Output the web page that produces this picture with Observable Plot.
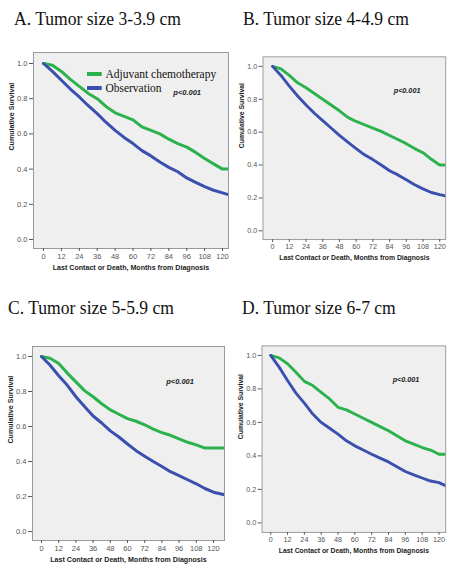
<!DOCTYPE html>
<html>
<head>
<meta charset="utf-8">
<script src="https://cdn.jsdelivr.net/npm/d3@7"></script>
<script src="https://cdn.jsdelivr.net/npm/@observablehq/plot@0.6"></script>
<style>
  html, body { margin: 0; padding: 0; background: #fff; }
  #wrap { position: relative; width: 451px; height: 566px; overflow: hidden; background: #fff; }
  .title { position: absolute; font-family: "Liberation Serif", "DejaVu Serif", serif; font-size: 19px; color: #111; white-space: nowrap; line-height: 1; transform: scaleX(0.925); transform-origin: 0 0; }
  .panel { position: absolute; }
  .legend { position: absolute; font-family: "Liberation Serif", serif; font-size: 12.5px; color: #111; line-height: 14px; transform: scaleX(0.92); transform-origin: 0 0; }
  .legend div { display: flex; align-items: center; white-space: nowrap; }
  .legend span.sw { display: inline-block; width: 16px; height: 4px; margin-right: 4px; }
</style>
</head>
<body>
<div id="wrap"></div>
<script>
// ---- data ----
const months = [0,6,12,18,24,30,36,42,48,54,60,66,72,78,84,90,96,102,108,114,120,128];
const xTicks = [0,12,24,36,48,60,72,84,96,108,120];
const yTicks = [0,0.2,0.4,0.6,0.8,1.0];
const seriesNames = ["Adjuvant chemotherapy", "Observation"];
const panelTitles = ["A. Tumor size 3-3.9 cm", "B. Tumor size 4-4.9 cm", "C. Tumor size 5-5.9 cm", "D. Tumor size 6-7 cm"];
const pText = "p<0.001";
const xLabel = "Last Contact or Death, Months from Diagnosis";
const yLabel = "Cumulative Survival";

const greenA = [1.0,0.99,0.955,0.91,0.87,0.83,0.80,0.755,0.72,0.70,0.68,0.64,0.62,0.60,0.57,0.545,0.525,0.495,0.46,0.43,0.40,0.40];
const blueA  = [1.0,0.955,0.905,0.855,0.81,0.76,0.715,0.665,0.62,0.58,0.545,0.505,0.475,0.44,0.41,0.385,0.35,0.325,0.30,0.28,0.265,0.245];
const greenB = [1.0,0.985,0.945,0.90,0.87,0.835,0.80,0.765,0.73,0.69,0.665,0.645,0.625,0.605,0.58,0.555,0.53,0.50,0.475,0.435,0.40,0.40];
const blueB  = [1.0,0.945,0.88,0.82,0.765,0.715,0.67,0.625,0.58,0.54,0.50,0.462,0.433,0.40,0.365,0.34,0.31,0.28,0.255,0.233,0.22,0.205];
const greenC = [1.0,0.99,0.96,0.905,0.855,0.805,0.77,0.73,0.695,0.67,0.645,0.63,0.61,0.585,0.565,0.55,0.53,0.51,0.495,0.477,0.477,0.477];
const blueC  = [1.0,0.95,0.89,0.835,0.77,0.715,0.66,0.62,0.575,0.54,0.50,0.462,0.43,0.40,0.372,0.342,0.32,0.296,0.273,0.246,0.225,0.21];
const greenD = [1.0,0.985,0.95,0.90,0.845,0.82,0.78,0.74,0.69,0.675,0.65,0.625,0.60,0.575,0.55,0.52,0.49,0.47,0.45,0.435,0.41,0.41];
const blueD  = [1.0,0.93,0.85,0.775,0.715,0.65,0.60,0.565,0.53,0.49,0.46,0.435,0.41,0.387,0.364,0.335,0.307,0.287,0.268,0.25,0.24,0.21];

const colors = ["#2bb24c", "#3a4fae"];

// ---- layout per panel ----
const panels = [
  {green: greenA, blue: blueA, title: panelTitles[0], tx: 14, ty: 8.5,
   left: 0, top: 40, width: 235, height: 245, mL: 33, mR: 7, mT: 12, mB: 37,
   xd: [-6.7, 124.0], yd: [-0.051, 1.0625], py: 0.835},
  {green: greenB, blue: blueB, title: panelTitles[1], tx: 243, ty: 8.5,
   left: 225, top: 40, width: 235, height: 245, mL: 39, mR: 6, mT: 17, mB: 38,
   xd: [-6.9, 124.3], yd: [-0.053, 1.058], py: 0.854},
  {green: greenC, blue: blueC, title: panelTitles[2], tx: 8, ty: 298,
   left: 0, top: 330, width: 235, height: 236, mL: 32, mR: 11, mT: 16, mB: 26,
   xd: [-6.3, 127.7], yd: [-0.051, 1.057], py: 0.857},
  {green: greenD, blue: blueD, title: panelTitles[3], tx: 242, ty: 298,
   left: 225, top: 330, width: 235, height: 236, mL: 38, mR: 6, mT: 16, mB: 26,
   xd: [-6.2, 124.8], yd: [-0.057, 1.057], py: 0.856}
];

const wrap = document.getElementById("wrap");

panels.forEach((p, i) => {
  const rows = [];
  months.forEach((m, k) => {
    rows.push({month: m, surv: p.green[k], group: seriesNames[0]});
  });
  months.forEach((m, k) => {
    rows.push({month: m, surv: p.blue[k], group: seriesNames[1]});
  });

  const chart = Plot.plot({
    width: p.width,
    height: p.height,
    marginLeft: p.mL, marginRight: p.mR, marginTop: p.mT, marginBottom: p.mB,
    style: {fontFamily: "'Liberation Sans', Arial, sans-serif", background: "transparent", overflow: "visible"},
    x: {domain: p.xd, axis: null},
    y: {domain: p.yd, axis: null},
    color: {domain: seriesNames, range: colors},
    marks: [
      Plot.frame({fill: "#efefef", stroke: "#9a9a9a", strokeWidth: 1}),
      Plot.axisX({ticks: xTicks, tickFormat: d => String(d), tickSize: 3, tickPadding: 2, fontSize: 7.5, color: "#555", label: null}),
      Plot.axisY({ticks: yTicks, tickFormat: d3.format(".1f"), tickSize: 4, tickPadding: 2, fontSize: 7.5, color: "#555", label: null}),
      Plot.line(rows, {x: "month", y: "surv", z: "group", stroke: "group", strokeWidth: 3, clip: true, strokeLinejoin: "round"}),
      Plot.text([pText], {x: 87, y: p.py, text: d => d, textAnchor: "start", fontSize: 7.5, fontWeight: "bold", fontStyle: "italic", fill: "#222"}),
      Plot.text([xLabel], {frameAnchor: "bottom", dy: 21, text: d => d, fontSize: 7.1, fontWeight: "bold", fill: "#222"}),
      Plot.text([yLabel], {frameAnchor: "left", dx: -22, rotate: -90, text: d => d, fontSize: 7.1, fontWeight: "bold", fill: "#222"})
    ]
  });

  const holder = document.createElement("div");
  holder.className = "panel";
  holder.style.left = p.left + "px";
  holder.style.top = p.top + "px";
  holder.appendChild(chart);
  wrap.appendChild(holder);

  const t = document.createElement("div");
  t.className = "title";
  t.style.left = p.tx + "px";
  t.style.top = p.ty + "px";
  t.textContent = p.title;
  wrap.appendChild(t);

  if (i === 0) {
    const lg = document.createElement("div");
    lg.className = "legend";
    lg.style.left = "87px";
    lg.style.top = "67px";
    seriesNames.forEach((n, k) => {
      const row = document.createElement("div");
      const sw = document.createElement("span");
      sw.className = "sw";
      sw.style.background = colors[k];
      row.appendChild(sw);
      row.appendChild(document.createTextNode(n));
      lg.appendChild(row);
    });
    wrap.appendChild(lg);
  }
});
</script>
</body>
</html>
